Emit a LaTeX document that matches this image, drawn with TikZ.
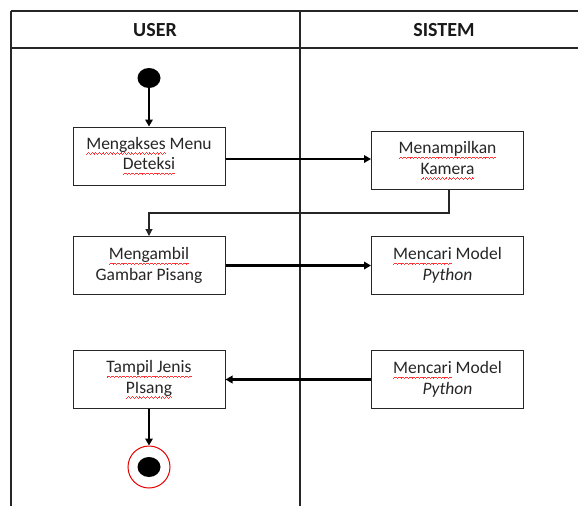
\documentclass[tikz,border=0pt]{standalone}
\usepackage{fontspec}
\setmainfont{Carlito}
\usetikzlibrary{arrows.meta,calc,shapes.geometric}
\newsavebox\splbox
\newcommand\wavepiece{\rule[-4.8pt]{0.9pt}{0.7pt}\rule[-4.2pt]{0.9pt}{0.7pt}\rule[-3.6pt]{0.9pt}{0.7pt}\rule[-4.2pt]{0.9pt}{0.7pt}}
\newcommand\spl[1]{\sbox\splbox{#1}\rlap{\hbox to\wd\splbox{\color{red!80!white}\xleaders\hbox{\wavepiece}\hfill}}\usebox\splbox}
\tikzset{
  tbl/.style={line width=1.3pt, draw=black!85},
  box/.style={draw=black!85, line width=1pt, minimum width=152pt, minimum height=58pt,
    align=center, inner sep=0pt, text=black!85, font=\fontsize{17.5}{20.5}\selectfont},
  hdr/.style={font=\bfseries\fontsize{20}{24}\selectfont, text=black!90},
  flow/.style={line width=2.2pt, draw=black, -{Triangle[length=7pt,width=7.5pt]}},
  retflow/.style={line width=1.1pt, draw=black!85, -{Triangle[length=7pt,width=7pt]}},
  startdot/.style={ellipse, fill=black, minimum width=23pt, minimum height=20pt, inner sep=0pt},
  endring/.style={circle, draw=red!90!black, line width=1pt, minimum size=42pt, inner sep=0pt}
}
\begin{document}
\begin{tikzpicture}[x=1pt, y=-1pt]
\useasboundingbox (0,0) rectangle (578,506);
% swimlane table
\draw[tbl] (11,11) -- (578,11);
\draw[tbl] (11,48) -- (578,48);
\draw[tbl] (11,11) -- (11,506);
\draw[tbl] (300,11) -- (300,506);
\node[hdr] (huser) at (155,30) {USER};
\node[hdr] (hsis) at (444,30) {SISTEM};
% nodes
\node[startdot] (start) at (149,78) {};
\node[box] (ua) at (149,156) {\spl{Mengakses} Menu\\\spl{Deteksi}};
\node[box] (sa) at (447.5,160.5) {\spl{Menampilkan}\\\spl{Kamera}};
\node[box] (ub) at (149,265.5) {\spl{Mengambil}\\Gambar Pisang};
\node[box] (sb) at (447.5,265.5) {\spl{Mencari} Model\\\textit{Python}};
\node[box] (uc) at (149,379.5) {\spl{Tampil Jenis}\\\spl{PIsang}};
\node[box] (sc) at (447.5,379.5) {\spl{Mencari} Model\\\textit{Python}};
\node[endring] (finish) at (149,467) {};
\node[startdot] (finishdot) at (finish) {};
% connectors
\draw[flow] (start.south) -- (ua.north);
\draw[flow] ([yshift=-3pt]ua.east) -- ([yshift=-3pt]ua.east -| sa.west);
\draw[retflow] ([xshift=1.5pt]sa.south) -- ++(0,23) -| (ub.north);
\draw[flow] (ub.east) -- (sb.west);
\draw[flow] (sc.west) -- (uc.east);
\draw[flow] (uc.south) -- (finish.north);
\end{tikzpicture}
\end{document}
